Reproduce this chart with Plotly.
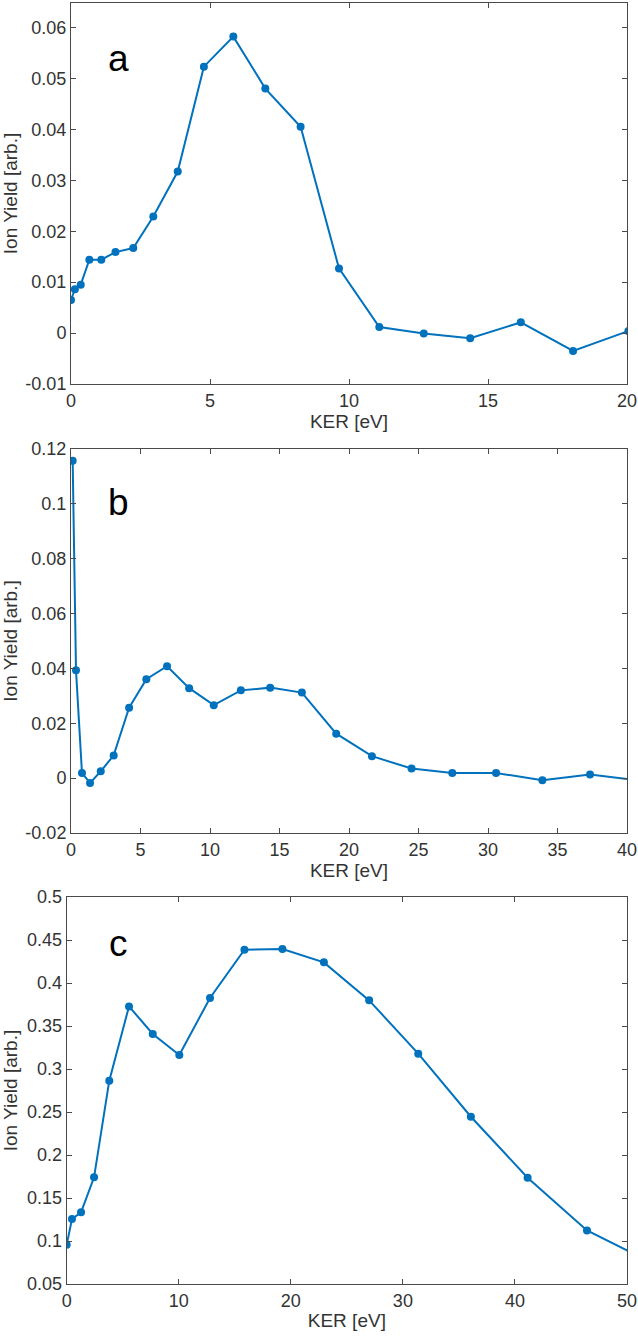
import plotly.graph_objects as go

# ---- Data ----
ker_a = [0.0, 0.14, 0.35, 0.66, 1.09, 1.6, 2.24, 2.96, 3.84, 4.78, 5.84, 6.99, 8.26,
         9.64, 11.09, 12.69, 14.36, 16.18, 18.06, 20.05]
yield_a = [0.0065, 0.0086, 0.0095, 0.0144, 0.0144, 0.0159, 0.0167, 0.0229, 0.0317, 0.0523,
           0.0582, 0.0480, 0.0405, 0.0127, 0.0012, -0.0001, -0.0010, 0.0021, -0.0035, 0.0004]

ker_b = [0.12, 0.36, 0.79, 1.37, 2.14, 3.07, 4.18, 5.42, 6.91, 8.5, 10.27, 12.22, 14.33,
         16.61, 19.08, 21.65, 24.5, 27.43, 30.58, 33.91, 37.34, 40.9]
yield_b = [0.1157, 0.0393, 0.0019, -0.0018, 0.0025, 0.0083, 0.0257, 0.0361, 0.0408, 0.0328,
           0.0266, 0.0320, 0.0330, 0.0312, 0.0162, 0.0080, 0.0035, 0.0019, 0.0019, -0.0008,
           0.0013, -0.0009]

ker_c = [0.0, 0.47, 1.28, 2.44, 3.8, 5.56, 7.68, 10.05, 12.79, 15.86, 19.25, 22.95, 26.99,
         31.37, 36.07, 41.13, 46.43, 52.0]
yield_c = [0.0957, 0.1256, 0.1333, 0.174, 0.2864, 0.3728, 0.3407, 0.3163, 0.3826, 0.4388,
           0.4395, 0.4240, 0.3798, 0.3178, 0.2445, 0.1736, 0.1123, 0.076]

panel_labels = ["a", "b", "c"]
x_title = "KER [eV]"
y_title = "Ion Yield [arb.]"

xticks_a = [0, 5, 10, 15, 20]
yticks_a = [-0.01, 0, 0.01, 0.02, 0.03, 0.04, 0.05, 0.06]
yticktext_a = ["-0.01", "0", "0.01", "0.02", "0.03", "0.04", "0.05", "0.06"]

xticks_b = [0, 5, 10, 15, 20, 25, 30, 35, 40]
yticks_b = [-0.02, 0, 0.02, 0.04, 0.06, 0.08, 0.1, 0.12]
yticktext_b = ["-0.02", "0", "0.02", "0.04", "0.06", "0.08", "0.1", "0.12"]

xticks_c = [0, 10, 20, 30, 40, 50]
yticks_c = [0.05, 0.1, 0.15, 0.2, 0.25, 0.3, 0.35, 0.4, 0.45, 0.5]
yticktext_c = ["0.05", "0.1", "0.15", "0.2", "0.25", "0.3", "0.35", "0.4", "0.45", "0.5"]

# ---- Styling ----
W, H = 638, 1337
BLUE = "#0072BD"
AX = "#4a4a4a"
TXT = "#333333"
FONT = "Liberation Sans, Arial, sans-serif"


def px_x(p):
    return p / W


def px_y(p):
    return 1 - p / H


fig = go.Figure()

panels = [
    dict(x=ker_a, y=yield_a, xa="x", ya="y", xd=(71, 627), yd=(3, 384),
         xr=[0, 20], yr=[-0.01, 0.0648], xt=xticks_a, yt=yticks_a, ytt=yticktext_a),
    dict(x=ker_b, y=yield_b, xa="x2", ya="y2", xd=(71, 627), yd=(449, 833),
         xr=[0, 40], yr=[-0.02, 0.12], xt=xticks_b, yt=yticks_b, ytt=yticktext_b),
    dict(x=ker_c, y=yield_c, xa="x3", ya="y3", xd=(66.7, 627), yd=(897, 1284),
         xr=[0, 50], yr=[0.05, 0.5], xt=xticks_c, yt=yticks_c, ytt=yticktext_c),
]

layout = dict(
    width=W, height=H,
    margin=dict(l=0, r=0, t=0, b=0, autoexpand=False),
    paper_bgcolor="white", plot_bgcolor="white",
    showlegend=False,
    font=dict(family=FONT, color=TXT, size=18),
)

annotations = []
for i, p in enumerate(panels):
    fig.add_trace(go.Scatter(
        x=p["x"], y=p["y"], xaxis=p["xa"], yaxis=p["ya"],
        mode="lines+markers",
        line=dict(color=BLUE, width=2),
        marker=dict(color=BLUE, size=8),
        cliponaxis=True,
    ))
    sx = "" if i == 0 else str(i + 1)
    layout["xaxis" + sx] = dict(
        domain=[px_x(p["xd"][0]), px_x(p["xd"][1])],
        anchor=p["ya"], range=p["xr"], automargin=False,
        tickmode="array", tickvals=p["xt"], ticktext=[str(v) for v in p["xt"]],
        ticks="inside", ticklen=5, tickwidth=1, tickcolor=AX,
        showline=True, linecolor=AX, linewidth=1, mirror="ticks",
        showgrid=False, zeroline=False,
        tickfont=dict(size=18, color=TXT, family=FONT),
        title=dict(text=x_title, font=dict(size=19, color=TXT, family=FONT), standoff=4),
    )
    layout["yaxis" + sx] = dict(
        domain=[px_y(p["yd"][1]), px_y(p["yd"][0])],
        anchor=p["xa"], range=p["yr"], automargin=False,
        tickmode="array", tickvals=p["yt"], ticktext=p["ytt"],
        ticks="inside", ticklen=5, tickwidth=1, tickcolor=AX,
        showline=True, linecolor=AX, linewidth=1, mirror="ticks",
        showgrid=False, zeroline=False,
        tickfont=dict(size=18, color=TXT, family=FONT),
        title=dict(text=y_title, font=dict(size=19, color=TXT, family=FONT), standoff=6),
    )
    annotations.append(dict(
        text=panel_labels[i], xref="paper", yref="paper",
        x=px_x(118), y=px_y([58, 503, 943][i]),
        xanchor="center", yanchor="middle", showarrow=False,
        font=dict(size=37, color="black", family=FONT),
    ))

layout["annotations"] = annotations
fig.update_layout(**layout)
fig.write_html("out.html")
